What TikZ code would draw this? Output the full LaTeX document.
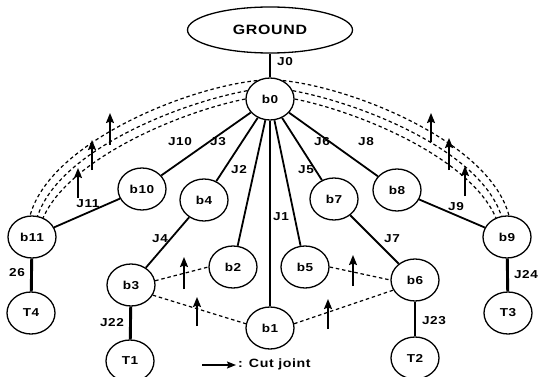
\documentclass[tikz,border=0pt]{standalone}
\usepackage{fontspec}
\setmainfont[FakeStretch=1.18,LetterSpace=5]{Liberation Sans}
\usetikzlibrary{shapes.geometric,arrows.meta}

\begin{document}
\begin{tikzpicture}[x=1pt,y=-1pt,
  body/.style={ellipse, draw, line width=1.3pt, minimum width=48pt,
    minimum height=42pt, inner sep=0pt,
    font=\bfseries\fontsize{11.5}{12}\selectfont},
  lbl/.style={font=\bfseries\fontsize{11.5}{12}\selectfont, inner sep=0pt},
  treelink/.style={line width=1.8pt},
  toollink/.style={line width=2.9pt},
  cutline/.style={line width=1.2pt, dash pattern=on 3.5pt off 2.8pt},
  cutarrow/.style={line width=1.5pt, -{Stealth[length=10pt,width=8pt,inset=1.5pt]}}
]
\useasboundingbox (0,0) rectangle (546,377);

% ground and bodies
\node[ellipse, draw, line width=1.3pt, minimum width=165pt, minimum height=46pt,
  inner sep=0pt, font=\bfseries\fontsize{13.5}{14}\selectfont] (ground) at (270,30) {GROUND};
\node[body] (b0)  at (270,99)  {b0};
\node[body] (b10) at (142,189) {b10};
\node[body] (b4)  at (204,200) {b4};
\node[body] (b2)  at (233,267) {b2};
\node[body] (b1)  at (270,328) {b1};
\node[body] (b5)  at (305,267) {b5};
\node[body] (b7)  at (334,199) {b7};
\node[body] (b8)  at (397,190) {b8};
\node[body] (b11) at (32,237)  {b11};
\node[body] (b9)  at (507,237) {b9};
\node[body] (b3)  at (131,285) {b3};
\node[body] (b6)  at (415,280) {b6};
\node[body] (T4)  at (31,313)  {T4};
\node[body] (T1)  at (130,361) {T1};
\node[body] (T2)  at (415,358) {T2};
\node[body] (T3)  at (508,313) {T3};

% tree joints
\draw[treelink] (ground) -- (b0);
\foreach \n in {b10,b4,b2,b1,b5,b7,b8} \draw[treelink] (b0) -- (\n);
\draw[treelink] (b10) -- (b11);
\draw[treelink] (b4) -- (b3);
\draw[treelink] (b7) -- (b6);
\draw[treelink] (b8) -- (b9);
\draw[toollink] (b11) -- (T4);
\draw[toollink] (b3) -- (T1);
\draw[toollink] (b6) -- (T2);
\draw[toollink] (b9) -- (T3);

% joint labels
\node[lbl] at (285,62)  {J0};
\node[lbl] at (180,142) {J10};
\node[lbl] at (218,142) {J3};
\node[lbl] at (239,170) {J2};
\node[lbl] at (306,170) {J5};
\node[lbl] at (322,142) {J6};
\node[lbl] at (366,142) {J8};
\node[lbl] at (281,217) {J1};
\node[lbl] at (88,204)  {J11};
\node[lbl] at (160,239) {J4};
\node[lbl] at (392,239) {J7};
\node[lbl] at (456,207) {J9};
\node[lbl] at (17,273)  {26};
\node[lbl] at (112,323) {J22};
\node[lbl] at (434,321) {J23};
\node[lbl] at (526,275) {J24};

% closed loops through the cut joints
\draw[cutline] (b0.125) .. controls (185,88)  and (50,143)  .. (b11.95);
\draw[cutline] (b0.160) .. controls (180,103) and (60,150)  .. (b11.75);
\draw[cutline] (b0.180) .. controls (180,112) and (70,158)  .. (b11.60);
\draw[cutline] (b0.55)  .. controls (355,88)  and (490,143) .. (b9.85);
\draw[cutline] (b0.20)  .. controls (360,103) and (480,150) .. (b9.105);
\draw[cutline] (b0.0)   .. controls (360,112) and (470,158) .. (b9.120);
\draw[cutline] (b3.10)  -- (b2.west);
\draw[cutline] (b3.-25) -- (b1.170);
\draw[cutline] (b5.east) -- (b6.west);
\draw[cutline] (b1.10)  -- (b6.205);

% cut joint markers
\draw[cutarrow] (110,145) -- (110,113);
\draw[cutarrow] (92,170)  -- (92,140);
\draw[cutarrow] (78,198)  -- (78,168);
\draw[cutarrow] (431,142) -- (431,113);
\draw[cutarrow] (449,170) -- (449,138);
\draw[cutarrow] (465,196) -- (465,166);
\draw[cutarrow] (184,289) -- (184,257);
\draw[cutarrow] (197,326) -- (197,297);
\draw[cutarrow] (353,286) -- (353,255);
\draw[cutarrow] (328,329) -- (328,299);

% legend
\coordinate (keyL) at (202,365);
\coordinate (keyR) at (236,365);
\draw[line width=1.3pt, -{Stealth[length=9pt,width=7pt,inset=1.5pt]}] (keyL) -- (keyR);
\node[lbl, anchor=west, font=\bfseries\fontsize{12}{13}\selectfont] at (238,364) {: Cut joint};
\end{tikzpicture}
\end{document}
